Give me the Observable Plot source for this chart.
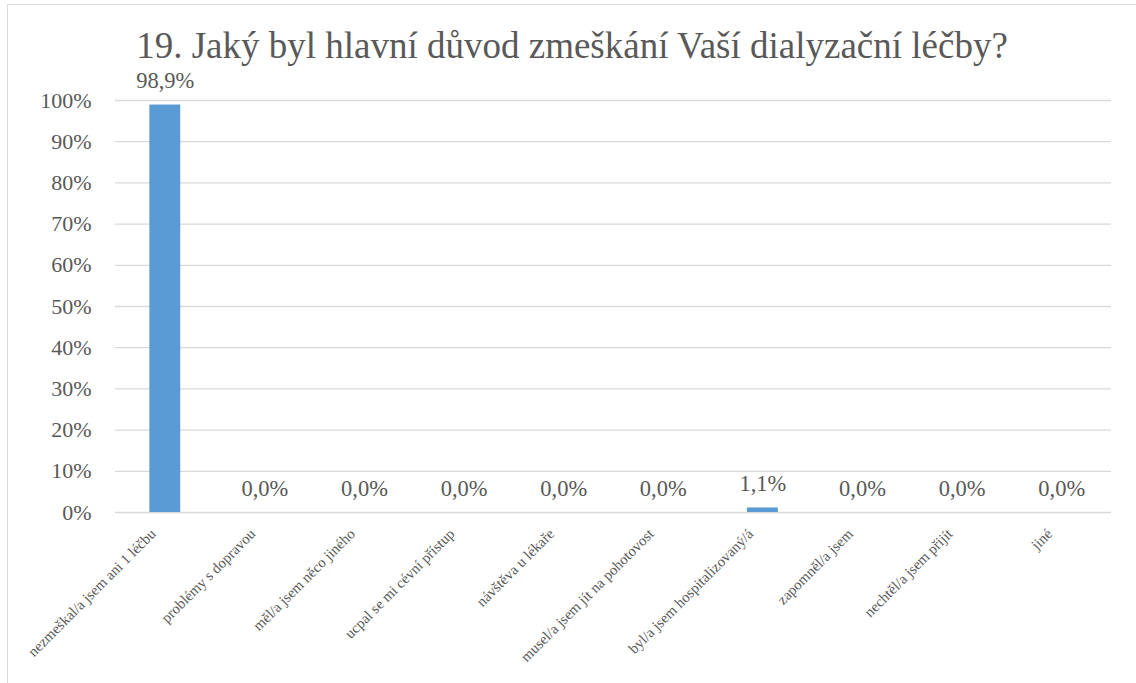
<!DOCTYPE html>
<html>
<head>
<meta charset="utf-8">
<script src="https://cdn.jsdelivr.net/npm/d3@7"></script>
<script src="https://cdn.jsdelivr.net/npm/@observablehq/plot@0.6"></script>
<style>
  html, body { margin: 0; padding: 0; background: #fff; }
  #wrap { position: relative; width: 1136px; height: 683px; overflow: hidden; }
  #frame { position: absolute; left: 7px; top: 4px; width: 1200px; height: 800px; border-left: 1px solid #D9D9D9; border-top: 1px solid #D9D9D9; }
  #title { position: absolute; left: 0; top: 24px; width: 1144px; text-align: center; font-size: 37px; color: #595959; white-space: nowrap; font-family: 'Liberation Serif'; }
  #chart { position: absolute; left: 0; top: 0; }
  #chart svg, #chart svg text { font-family: 'Liberation Serif' !important; }
</style>
</head>
<body>
<div id="wrap">
  <div id="frame"></div>
  <div id="chart"></div>
  <div id="title">19. Jaký byl hlavní důvod zmeškání Vaší dialyzační léčby?</div>
</div>
<script>
const categories = [
  "nezmeškal/a jsem ani 1 léčbu",
  "problémy s dopravou",
  "měl/a jsem něco jiného",
  "ucpal se mi cévní přístup",
  "návštěva u lékaře",
  "musel/a jsem jít na pohotovost",
  "byl/a jsem hospitalizovaný/á",
  "zapomněl/a jsem",
  "nechtěl/a jsem přijít",
  "jiné"
];
const values = [0.989, 0, 0, 0, 0, 0, 0.011, 0, 0, 0];
const yTicks = [0, 0.1, 0.2, 0.3, 0.4, 0.5, 0.6, 0.7, 0.8, 0.9, 1.0];

const data = categories.map((c, i) => ({category: c, value: values[i]}));
const fmtVal = v => (v * 100).toFixed(1).replace(".", ",") + "%";

const chart = Plot.plot({
  width: 1136,
  height: 683,
  marginLeft: 115,
  marginRight: 25,
  marginTop: 100,
  marginBottom: 171,
  style: {fontFamily: "Liberation Serif", color: "#595959", background: "transparent", overflow: "visible"},
  x: {domain: categories, paddingInner: 0.69, paddingOuter: 0.345, round: false, label: null},
  y: {domain: [0, 1], label: null},
  marks: [
    Plot.ruleY(yTicks, {stroke: "#D9D9D9", strokeWidth: 1.3}),
    Plot.barY(data, {x: "category", y: "value", fill: "#5B9BD5"}),
    Plot.text(data, {x: "category", y: "value", text: d => fmtVal(d.value), dy: -24, fontSize: 22.5, fill: "#595959"}),
    Plot.axisY(yTicks, {tickSize: 0, tickPadding: 24, fontSize: 22, tickFormat: d => Math.round(d * 100) + "%", fill: "#595959", label: null}),
    Plot.axisX({tickSize: 0, tickPadding: 16, dx: -12, dy: 3, tickRotate: -45, fontSize: 14.8, fill: "#595959", label: null})
  ]
});
document.getElementById("chart").appendChild(chart);
</script>
</body>
</html>
